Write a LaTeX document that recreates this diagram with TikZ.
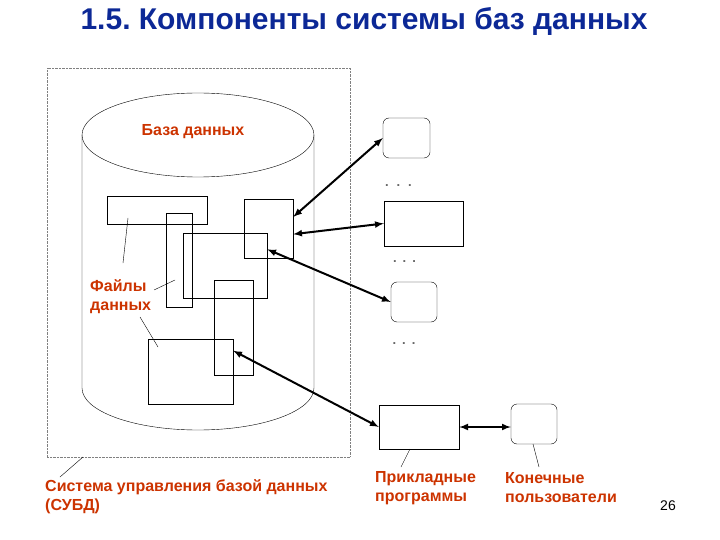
\documentclass[tikz,border=0pt]{standalone}
\usepackage{fontspec}
\setmainfont{Liberation Sans}
\usetikzlibrary{positioning}
\definecolor{titleblue}{RGB}{12,40,150}
\definecolor{labelred}{RGB}{204,51,0}
\frenchspacing
\tikzset{
  every edge/.append style={thick},
  link/.style={latex-latex,line width=2pt},
  leader/.style={thin},
  file/.style={draw,inner sep=0pt},
  user/.style={draw,inner sep=0pt,rounded corners=6pt},
  caption/.style={text=labelred,font=\fontsize{16}{19}\selectfont\bfseries,
    align=left,inner sep=0pt},
  more/.style={font=\fontsize{13}{14}\selectfont\bfseries,text=black!60,inner sep=0pt}
}

\begin{document}
\begin{tikzpicture}[x=1pt,y=-1pt]
  \useasboundingbox (0,0) rectangle (720,540);
  \node (title) at (364,21) [text=titleblue,font=\fontsize{30}{33}\selectfont\bfseries]
    {1.5. Компоненты системы баз данных};
  % DBMS frame
  \node (sys) at (198.5,262.5) [draw,densely dotted,gray,minimum width=303pt,
    minimum height=389pt] {};
  % database cylinder
  \draw (198,135) ellipse[x radius=116pt,y radius=42pt];
  \draw (82,135) -- (82,388) arc[start angle=180,end angle=360,x radius=116pt,
    y radius=42pt] -- (314,135);
  \node (db) at (193,132) [caption] {База данных};
  % data files
  \node (r1) at (157,210) [file,minimum width=100pt,minimum height=28pt] {};
  \node (r2) at (179,260) [file,minimum width=26pt,minimum height=94pt] {};
  \node (r3) at (225,265.5) [file,minimum width=84pt,minimum height=65pt] {};
  \node (r4) at (268.5,228.5) [file,minimum width=49pt,minimum height=59pt] {};
  \node (r5) at (233.5,327.5) [file,minimum width=39pt,minimum height=95pt] {};
  \node (r6) at (190.5,371.5) [file,minimum width=85pt,minimum height=65pt] {};
  \node (files) at (90,297) [caption,anchor=west] {Файлы\\данных};
  % applications and users
  \node (b1) at (406.5,138) [user,minimum width=47pt,minimum height=40pt] {};
  \node (d1) [more,below=26pt of b1.south west,anchor=north west,xshift=2pt] {.\hspace{8pt}.\hspace{8pt}.};
  \node (b2) at (423.5,223.5) [file,minimum width=79pt,minimum height=45pt] {};
  \node (d2) [more,below=14pt of b2.south,xshift=-19pt] {.\hspace{6pt}.\hspace{6pt}.};
  \node (b3) at (414,302) [user,minimum width=46pt,minimum height=40pt] {};
  \node (d3) [more,below=20pt of b3.south,xshift=-10pt] {.\hspace{6pt}.\hspace{6pt}.};
  \node (p) at (419,427) [file,minimum width=80pt,minimum height=44pt] {};
  \node (u) at (534,424) [user,minimum width=46pt,minimum height=40pt] {};
  % connections
  \draw[link] (b1.west) -- (r4.25);
  \draw[link] (b2.west) -- (r4.-13);
  \draw[link] (b3.west) -- (r3.21);
  \draw[link] (p.west) -- (r6.26);
  \draw[link] (p.east) -- (p.east -| u.west);
  % captions
  \node (apps) at (375,488) [caption,anchor=west] {Прикладные\\программы};
  \node (users) at (505,488) [caption,anchor=west] {Конечные\\пользователи};
  \node (dbms) at (45,497) [caption,anchor=west] {Система управления базой данных\\(СУБД)};
  \node (page) at (668,506) [font=\fontsize{14}{16}\selectfont] {26};
  % leader lines
  \coordinate (f1) at (128,218); \coordinate (f1e) at (123,263);
  \coordinate (f2) at (175,280); \coordinate (f2e) at (154,290);
  \coordinate (f3) at (158,347); \coordinate (f3e) at (140,317);
  \coordinate (pa) at (410,449); \coordinate (pae) at (401,467);
  \coordinate (ua) at (533,444); \coordinate (uae) at (539,467);
  \coordinate (sa) at (83,457); \coordinate (sae) at (60,477);
  \draw[leader] (f1) -- (f1e);
  \draw[leader] (f2) -- (f2e);
  \draw[leader] (f3) -- (f3e);
  \draw[leader] (pa) -- (pae);
  \draw[leader] (ua) -- (uae);
  \draw[leader] (sa) -- (sae);
\end{tikzpicture}
\end{document}
